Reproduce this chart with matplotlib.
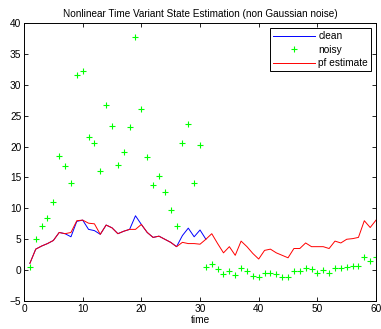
import matplotlib
matplotlib.use("Agg")
import matplotlib.pyplot as plt

plt.rcParams['font.family'] = ['Liberation Sans', 'DejaVu Sans']

t = list(range(1, 61))
noisy = [0.5, 5.1, 7.2, 8.4, 11.1, 18.5, 16.9, 14.1, 31.6, 32.3,
         21.6, 20.5, 16.1, 26.7, 23.4, 17.1, 19.2, 23.2, 37.7, 26.1,
         18.3, 13.8, 15.2, 12.7, 9.8, 7.2, 20.5, 23.6, 14.1, 20.3,
         0.5, 1.0, 0.2, -0.7, -0.2, -0.8, 0.4, -0.1, -0.9, -1.1,
         -0.4, -0.4, -0.7, -1.1, -1.1, -0.1, -0.1, 0.3, 0.2, -0.4,
         0.05, -0.4, 0.4, 0.4, 0.5, 0.6, 0.6, 2.1, 1.4, 2.2]
pf_est = [1.1, 3.4, 3.9, 4.3, 4.8, 6.1, 5.9, 6.1, 8.0, 8.1,
          7.6, 7.5, 5.8, 7.3, 6.85, 5.9, 6.3, 6.6, 6.6, 7.4,
          6.1, 5.3, 5.5, 5.0, 4.5, 3.8, 4.5, 4.3, 4.3, 4.2,
          5.0, 5.9, 4.3, 2.8, 3.8, 2.4, 4.7, 3.8, 2.7, 1.8,
          3.2, 3.4, 2.8, 2.4, 2.0, 3.5, 3.5, 4.4, 3.8, 3.8,
          3.8, 3.5, 4.7, 4.4, 5.0, 5.1, 5.3, 8.0, 6.9, 8.1]
t_clean = list(range(1, 32))
clean = [1.1, 3.4, 3.9, 4.3, 4.8, 6.1, 5.9, 5.4, 7.9, 8.1,
         6.6, 6.4, 5.8, 7.3, 6.85, 5.9, 6.3, 6.6, 8.8, 7.4,
         6.1, 5.3, 5.5, 5.0, 4.5, 3.8, 5.6, 6.8, 5.4, 6.5,
         5.0]

fig = plt.figure(figsize=(3.81, 3.29), dpi=100)
ax = fig.add_axes([0.063, 0.085, 0.924, 0.845])

ax.plot(t_clean, clean, color='#0000ff', lw=0.7, label='clean')
ax.plot(t, noisy, '+', color='#00ff00', ms=5, mew=0.8, label='noisy')
ax.plot(t, pf_est, color='#ff0000', lw=0.7, label='pf estimate')

ax.set_xlim(0, 60)
ax.set_ylim(-5, 40)
ax.set_xticks(range(0, 61, 10))
ax.set_yticks(range(-5, 41, 5))
ax.tick_params(direction='in', length=3, width=0.6, labelsize=7.3,
               top=True, right=True, pad=2)
for s in ax.spines.values():
    s.set_linewidth(0.7)

ax.set_title('Nonlinear Time Variant State Estimation (non Gaussian noise)',
             fontsize=7.2, pad=4)
ax.set_xlabel('time', fontsize=7.3, labelpad=1)

leg = ax.legend(loc='upper right', fontsize=7.3, fancybox=False,
                edgecolor='black', framealpha=1, borderaxespad=0.5,
                handlelength=4.2, handletextpad=0.3, borderpad=0.3,
                labelspacing=0.35)
leg.get_frame().set_linewidth(0.7)

fig.savefig('out.png', dpi=100)
